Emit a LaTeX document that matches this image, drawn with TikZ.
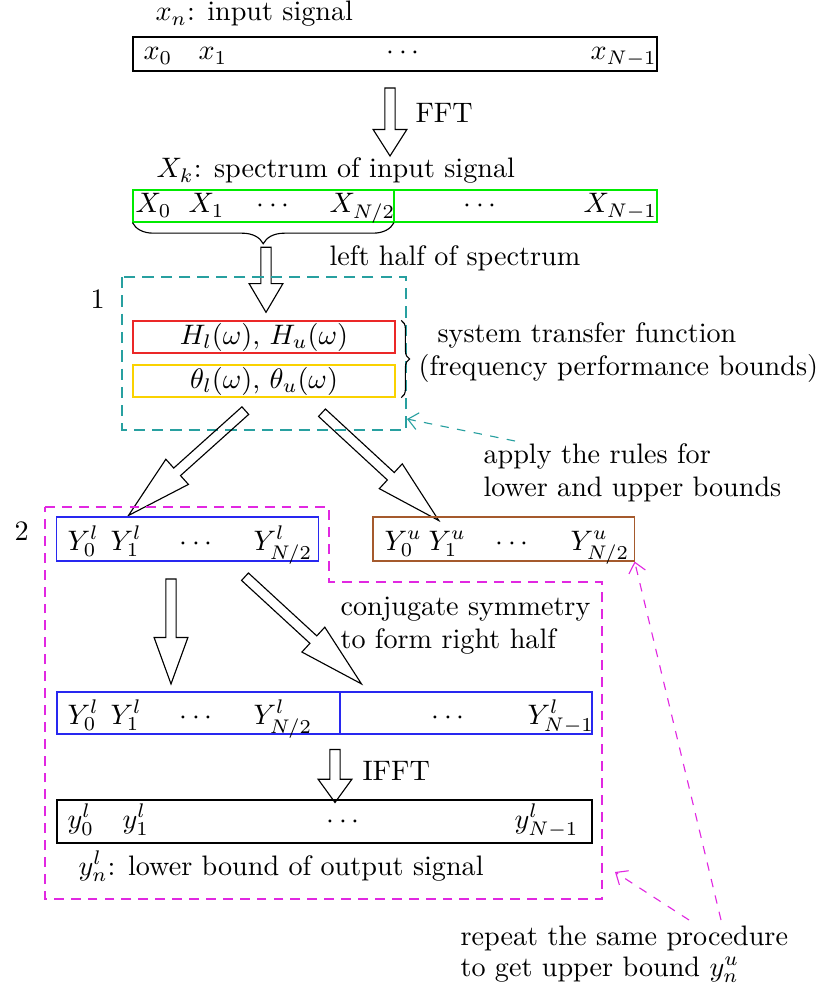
\documentclass[tikz,border=0pt]{standalone}
\usepackage{amsmath,amssymb}
\usepackage{xcolor}
\usepackage{tikz}
\usetikzlibrary{
  arrows.meta,
  positioning,
  shapes.arrows,
  calc,
  decorations.pathreplacing
}
\definecolor{specgreen}{RGB}{0,235,0}
\definecolor{tfred}{RGB}{235,40,40}
\definecolor{tfyellow}{RGB}{250,210,0}
\definecolor{lowblue}{RGB}{40,40,240}
\definecolor{upbrown}{RGB}{165,90,45}
\definecolor{stepteal}{RGB}{40,160,160}
\definecolor{stepmag}{RGB}{225,40,225}
% fat hollow arrow between two named points
\newcommand{\fatarrow}[3][65]{%
  \path let \p1=($(#3)-(#2)$), \n1={veclen(\x1,\y1)} in
    (#2) -- (#3) node[fatarr,midway,sloped,allow upside down,
                      minimum height=\n1,single arrow tip angle=#1] {};}

\begin{document}
\begin{tikzpicture}[
  x=0.355pt, y=-0.355pt,
  row/.style={draw,inner sep=0pt,minimum height=11.4pt},
  lbl/.style={anchor=base west,inner sep=0pt},
  fatarr/.style={draw,single arrow,inner sep=1.6pt,single arrow head extend=4.2pt},
  hint/.style={-{Straight Barb[length=3.5pt,width=6pt]},dashed},
  brc/.style={decorate,decoration={brace,amplitude=#1}},
]
\useasboundingbox (0,0) rectangle (820,987);

% input signal
\node[lbl] (xcap) at (155,21) {$x_n$: input signal};
\node[row,minimum width=186pt,minimum height=12.1pt] (sig) at (395,54) {};
\node[lbl] (x0)    at (143,60) {$x_0$};
\node[lbl] (x1)    at (198,60) {$x_1$};
\node[lbl] (xdots) at (386,60) {$\cdots$};
\node[lbl] (xlast) at (590,60) {$x_{N-1}$};

\coordinate (fftA) at (390,84);
\coordinate (fftB) at (390,152);
\fatarrow{fftA}{fftB}
\node[lbl] (fft) at (415,123) {FFT};

% spectrum
\node[lbl] (Xcap) at (156,178) {$X_k$: spectrum of input signal};
\node[row,draw=specgreen,minimum width=186pt] (spec) at (395,206) {};
\coordinate (half) at (394,190);
\draw[specgreen] (half) -- (half |- spec.south);
\node[lbl] (X0)     at (135,213) {$X_0$};
\node[lbl] (X1)     at (188,213) {$X_1$};
\node[lbl] (Xdots)  at (256,213) {$\cdots$};
\node[lbl] (Xhalf)  at (329,213) {$X_{N/2}$};
\node[lbl] (Xdots2) at (463,213) {$\cdots$};
\node[lbl] (Xlast)  at (583,213) {$X_{N-1}$};

\draw[brc=7.5pt] (half |- spec.south) -- (spec.south west);
\coordinate (lhA) at (266,243);
\coordinate (lhB) at (266,308);
\fatarrow[61]{lhA}{lhB}
\node[lbl] (lhalf) at (329,266) {left half of spectrum};

% step 1
\draw[stepteal,dash pattern=on 4pt off 2.5pt] (122,277) rectangle (406,430);
\node[lbl] (one) at (90,309) {1};
\node[row,draw=tfred,minimum width=93pt] (hbox) at (264,337) {$H_l(\omega)$, $H_u(\omega)$};
\node[row,draw=tfyellow,minimum width=93pt] (tbox) at (264,381) {$\theta_l(\omega)$, $\theta_u(\omega)$};
\draw[brc=3pt] ([xshift=2pt]hbox.north east) -- ([xshift=2pt]tbox.south east);
\node[lbl] (tf1) at (437,342) {system transfer function};
\node[lbl] (tf2) at (418,376) {(frequency performance bounds)};

\coordinate (rulesA) at (515,441);
\coordinate (rulesB) at (407,419);
\draw[hint,stepteal] (rulesA) -- (rulesB);
\node[lbl] (rules1) at (483,463) {apply the rules for};
\node[lbl] (rules2) at (483,496) {lower and upper bounds};

\coordinate (loA) at (252.7,404);
\coordinate (loB) at (135.7,509);
\fatarrow[29]{loA}{loB}
\coordinate (upA) at (314.7,406);
\coordinate (upB) at (431.7,514);
\fatarrow[29]{upA}{upB}

% step 2
\draw[stepmag,dash pattern=on 3.5pt off 2.5pt] (45,507) -- (329,507) -- (329,582) -- (602,582)
  -- (602,899) -- (45,899) -- cycle;
\node[lbl] (two) at (14,540) {2};
\node[row,draw=lowblue,minimum width=92.7pt,minimum height=15.6pt] (ylow) at (187.5,539) {};
\node[lbl] (Yl0)    at (67,550)  {$Y_0^l$};
\node[lbl] (Yl1)    at (110,550) {$Y_1^l$};
\node[lbl] (Yldots) at (179,550) {$\cdots$};
\node[lbl] (Ylhalf) at (253,550) {$Y_{N/2}^l$};

\node[row,draw=upbrown,minimum width=92.7pt,minimum height=15.6pt] (yup) at (503.5,539) {};
\node[lbl] (Yu0)    at (384,550) {$Y_0^u$};
\node[lbl] (Yu1)    at (428,550) {$Y_1^u$};
\node[lbl] (Yudots) at (495,550) {$\cdots$};
\node[lbl] (Yuhalf) at (570,550) {$Y_{N/2}^u$};

\coordinate (cpA) at (171,572);
\coordinate (cpB) at (171,677);
\fatarrow[40]{cpA}{cpB}
\coordinate (symA) at (237.7,570);
\coordinate (symB) at (354.3,677.3);
\fatarrow[29]{symA}{symB}
\node[lbl] (sym1) at (340,615) {conjugate symmetry};
\node[lbl] (sym2) at (340,648) {to form right half};

\node[row,draw=lowblue,minimum width=189.9pt,minimum height=14.9pt] (yfull) at (324.5,713) {};
\draw[lowblue] (340,692) -- (340,734);
\node[lbl] (Yf0)     at (67,724)  {$Y_0^l$};
\node[lbl] (Yf1)     at (110,724) {$Y_1^l$};
\node[lbl] (Yfdots)  at (179,724) {$\cdots$};
\node[lbl] (Yfhalf)  at (253,724) {$Y_{N/2}^l$};
\node[lbl] (Yfdots2) at (431,724) {$\cdots$};
\node[lbl] (Yflast)  at (527,724) {$Y_{N-1}^l$};

\coordinate (ifA) at (335,746);
\coordinate (ifB) at (335,799);
\fatarrow[72]{ifA}{ifB}
\node[lbl] (ifft) at (362,780) {IFFT};

\node[row,minimum width=189.9pt,minimum height=15.3pt] (yout) at (324.5,821.5) {};
\node[lbl] (y0)    at (67,828)  {$y_0^l$};
\node[lbl] (y1)    at (122,828) {$y_1^l$};
\node[lbl] (ydots) at (326,828) {$\cdots$};
\node[lbl] (ylast) at (514,828) {$y_{N-1}^l$};
\node[lbl] (ycap)  at (78,875)  {$y_n^l$: lower bound of output signal};

% repeat for the upper bound
\coordinate (repA) at (721,920);
\coordinate (repB) at (689,920);
\coordinate (repC) at (615,872);
\draw[hint,stepmag] (repA) -- (yup.south east);
\draw[hint,stepmag] (repB) -- (repC);
\node[lbl] (rep1) at (460,945) {repeat the same procedure};
\node[lbl] (rep2) at (460,976) {to get upper bound $y_n^u$};
\end{tikzpicture}
\end{document}
